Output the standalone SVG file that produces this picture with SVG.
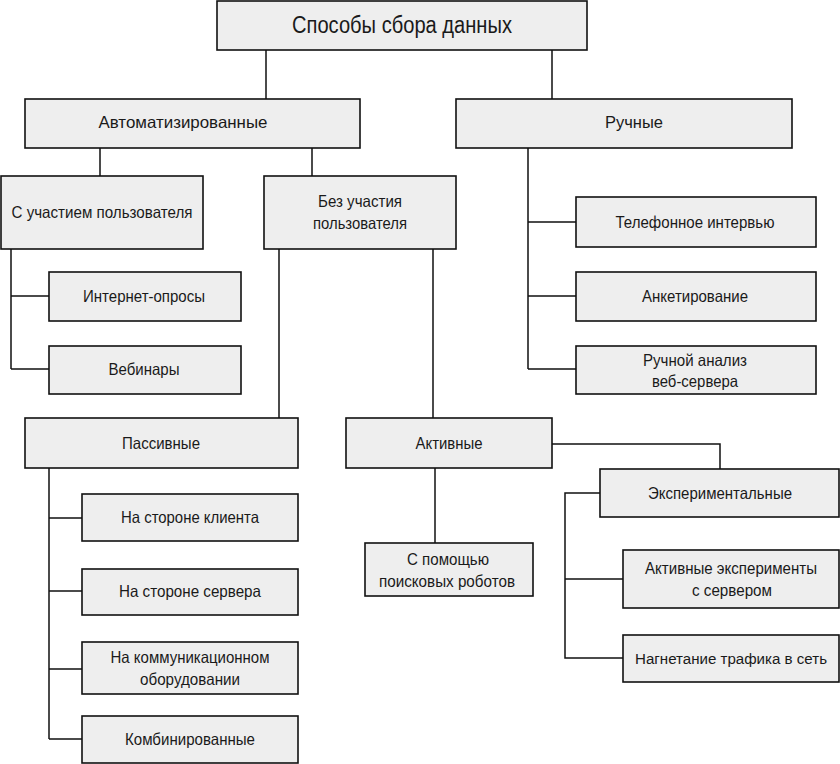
<svg xmlns="http://www.w3.org/2000/svg" width="840" height="764" viewBox="0 0 840 764">
<style>
.box{fill:#eeeeee;stroke:#111;stroke-width:1.6}
.t{font-family:"Liberation Sans",Arial,sans-serif;font-size:16.5px;fill:#1a1a1a;text-anchor:middle}
.big{font-size:23px}
.sm{font-size:15.5px}
.c{fill:none;stroke:#111;stroke-width:1.5}
</style>
<rect width="840" height="764" fill="#fff"/>
<g id="connectors">
<path class="c" d="M266,50V99 M552,50V99"/>
<path class="c" d="M100,148V176 M312,148V176"/>
<path class="c" d="M528,148V369 M528,222H576 M528,296H576 M528,369H576"/>
<path class="c" d="M11,249V369 M11,296H49 M11,369H49"/>
<path class="c" d="M279,249V418 M433,249V418"/>
<path class="c" d="M552,444H720V469"/>
<path class="c" d="M600,493H565V658H623 M565,579H623"/>
<path class="c" d="M435,468V543"/>
<path class="c" d="M49,468V739 M49,518H82 M49,591H82 M49,669H82 M49,739H82"/>
</g>
<g id="root"><rect class="box" x="217" y="1" width="370" height="49"/><text class="t big" x="402" y="33" textLength="220" lengthAdjust="spacingAndGlyphs">Способы сбора данных</text></g>
<g id="auto"><rect class="box" x="25" y="99" width="335" height="49"/><text class="t" x="183" y="128" textLength="169" lengthAdjust="spacingAndGlyphs">Автоматизированные</text></g>
<g id="manual"><rect class="box" x="456" y="99" width="336" height="49"/><text class="t" x="634" y="128" textLength="58" lengthAdjust="spacingAndGlyphs">Ручные</text></g>
<g id="with-user"><rect class="box" x="1" y="176" width="202" height="73"/><text class="t" x="102" y="218" textLength="181" lengthAdjust="spacingAndGlyphs">С участием пользователя</text></g>
<g id="without-user"><rect class="box" x="264" y="176" width="192" height="73"/><text class="t" x="360" y="207" textLength="84" lengthAdjust="spacingAndGlyphs">Без участия</text><text class="t" x="360" y="229" textLength="94" lengthAdjust="spacingAndGlyphs">пользователя</text></g>
<g id="phone"><rect class="box" x="576" y="197" width="240" height="50"/><text class="t" x="695" y="228" textLength="159" lengthAdjust="spacingAndGlyphs">Телефонное интервью</text></g>
<g id="survey"><rect class="box" x="576" y="272" width="240" height="49"/><text class="t" x="695" y="302" textLength="106" lengthAdjust="spacingAndGlyphs">Анкетирование</text></g>
<g id="manual-analysis"><rect class="box" x="576" y="346" width="240" height="48"/><text class="t" x="695" y="366" textLength="104" lengthAdjust="spacingAndGlyphs">Ручной анализ</text><text class="t" x="695" y="387" textLength="86" lengthAdjust="spacingAndGlyphs">веб-сервера</text></g>
<g id="internet"><rect class="box" x="49" y="272" width="192" height="49"/><text class="t" x="144" y="302" textLength="122" lengthAdjust="spacingAndGlyphs">Интернет-опросы</text></g>
<g id="webinars"><rect class="box" x="49" y="346" width="192" height="48"/><text class="t" x="144" y="375" textLength="71" lengthAdjust="spacingAndGlyphs">Вебинары</text></g>
<g id="passive"><rect class="box" x="25" y="418" width="273" height="50"/><text class="t" x="161" y="449" textLength="78" lengthAdjust="spacingAndGlyphs">Пассивные</text></g>
<g id="active"><rect class="box" x="346" y="418" width="206" height="50"/><text class="t" x="449" y="449" textLength="67" lengthAdjust="spacingAndGlyphs">Активные</text></g>
<g id="experimental"><rect class="box" x="600" y="469" width="239" height="48"/><text class="t" x="720" y="499" textLength="144" lengthAdjust="spacingAndGlyphs">Экспериментальные</text></g>
<g id="robots"><rect class="box" x="365" y="543" width="168" height="53"/><text class="t" x="448" y="565" textLength="82" lengthAdjust="spacingAndGlyphs">С помощью</text><text class="t" x="447" y="587" textLength="136" lengthAdjust="spacingAndGlyphs">поисковых роботов</text></g>
<g id="active-exp"><rect class="box" x="623" y="550" width="216" height="58"/><text class="t" x="731" y="574" textLength="172" lengthAdjust="spacingAndGlyphs">Активные эксперименты</text><text class="t" x="732" y="596" textLength="80" lengthAdjust="spacingAndGlyphs">с сервером</text></g>
<g id="traffic"><rect class="box" x="623" y="635" width="216" height="47"/><text class="t sm" x="731" y="664" textLength="192" lengthAdjust="spacingAndGlyphs">Нагнетание трафика в сеть</text></g>
<g id="client"><rect class="box" x="82" y="494" width="216" height="47"/><text class="t" x="190" y="523" textLength="138" lengthAdjust="spacingAndGlyphs">На стороне клиента</text></g>
<g id="server"><rect class="box" x="82" y="569" width="216" height="46"/><text class="t" x="190" y="597" textLength="142" lengthAdjust="spacingAndGlyphs">На стороне сервера</text></g>
<g id="network"><rect class="box" x="82" y="642" width="216" height="52"/><text class="t" x="190" y="663" textLength="159" lengthAdjust="spacingAndGlyphs">На коммуникационном</text><text class="t" x="190" y="685" textLength="100" lengthAdjust="spacingAndGlyphs">оборудовании</text></g>
<g id="combined"><rect class="box" x="82" y="716" width="216" height="47"/><text class="t" x="190" y="745" textLength="130" lengthAdjust="spacingAndGlyphs">Комбинированные</text></g>
</svg>
